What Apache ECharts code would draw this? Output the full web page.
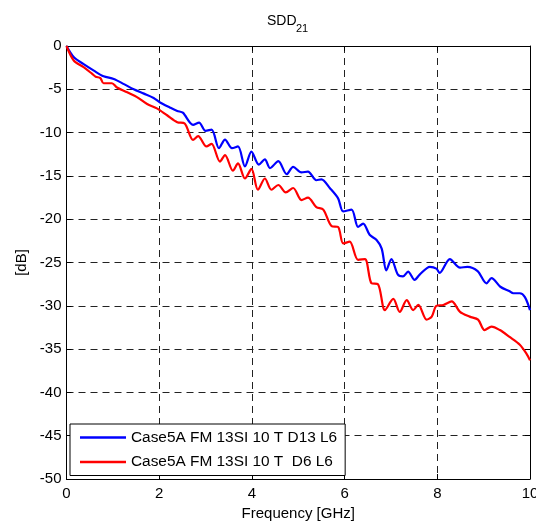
<!DOCTYPE html>
<html>
<head>
<meta charset="utf-8">
<script src="https://cdn.jsdelivr.net/npm/echarts@6/dist/echarts.min.js"></script>
<style>
html,body{margin:0;padding:0;background:#fff;}
#chart{width:536px;height:523px;}
</style>
</head>
<body>
<div id="chart"></div>
<script>
// ---- data ----
const seriesNames = ['Case5A FM 13SI 10 T D13 L6', 'Case5A FM 13SI 10 T  D6 L6'];
const xTicks = [0, 2, 4, 6, 8, 10];
const yTicks = [0, -5, -10, -15, -20, -25, -30, -35, -40, -45, -50];

const blueFreq = [0,0.16,0.37,0.59,0.8,1.02,1.24,1.45,1.67,1.88,2.01,2.23,2.39,2.51,2.73,2.86,3.0,3.13,3.29,3.42,3.57,3.7,3.85,3.99,4.15,4.28,4.39,4.57,4.75,4.89,5.07,5.21,5.39,5.5,5.68,5.86,5.97,6.15,6.29,6.4,6.54,6.69,6.8,6.9,7.01,7.15,7.26,7.37,7.51,7.62,7.84,7.98,8.05,8.27,8.49,8.65,8.87,9.06,9.17,9.36,9.55,9.64,9.78,9.89,10];
const blueDb   = [0,-1.3,-2.1,-2.85,-3.5,-3.8,-4.4,-5.0,-5.5,-6.0,-6.5,-7.1,-7.5,-7.7,-9.1,-8.85,-9.8,-9.65,-11.8,-10.8,-11.8,-11.6,-13.9,-12.2,-13.7,-13.1,-14.1,-13.3,-14.8,-13.95,-14.6,-14.5,-15.5,-15.4,-16.4,-17.6,-19.1,-18.9,-20.9,-20.5,-21.8,-22.4,-23.4,-25.9,-24.6,-26.4,-26.6,-26.05,-27.0,-26.4,-25.5,-25.7,-26.2,-24.6,-25.6,-25.5,-26.0,-27.4,-26.8,-27.8,-28.3,-28.55,-28.55,-29.0,-30.5];

const redFreq = [0,0.16,0.37,0.55,0.63,0.73,0.8,0.98,1.09,1.31,1.52,1.74,1.95,2.17,2.39,2.55,2.73,2.84,3.02,3.13,3.31,3.42,3.59,3.7,3.85,3.99,4.13,4.28,4.42,4.57,4.73,4.89,5.07,5.21,5.39,5.54,5.72,5.86,5.97,6.11,6.29,6.44,6.58,6.72,6.87,7.05,7.19,7.34,7.48,7.59,7.77,7.88,7.98,8.13,8.31,8.49,8.7,8.88,9.02,9.17,9.35,9.56,9.78,9.92,10];
const redDb   = [0,-1.7,-2.45,-3.2,-3.55,-3.7,-4.3,-4.3,-4.8,-5.35,-5.9,-6.7,-7.2,-8.0,-8.8,-8.95,-10.85,-10.4,-11.6,-11.3,-13.35,-12.6,-14.4,-13.55,-15.3,-14.2,-16.6,-15.3,-16.6,-16.05,-16.9,-16.4,-17.8,-17.5,-18.6,-18.9,-20.8,-20.9,-22.8,-22.6,-24.7,-24.6,-27.4,-27.5,-30.5,-29.2,-30.7,-29.35,-30.5,-29.9,-31.6,-31.25,-30.0,-29.9,-29.5,-30.7,-31.25,-31.6,-32.8,-32.4,-32.8,-33.6,-34.5,-35.5,-36.3];

const zip = (a, b) => a.map((v, i) => [v, b[i]]);
const FONT = "'Liberation Sans', Arial, sans-serif";

const chart = echarts.init(document.getElementById('chart'), null, {renderer: 'canvas'});

const gridLine = {show: true, lineStyle: {type: [7, 5], color: '#222', width: 1}};
const axisLine = {show: true, onZero: false, lineStyle: {color: '#000', width: 1}};
const axisTick = {show: true, inside: true, length: 5, lineStyle: {color: '#000'}};

chart.setOption({
  animation: false,
  backgroundColor: '#fff',
  graphic: [
    {type: 'text', left: 267, top: 14, style: {text: 'SDD', font: '14px ' + FONT, fill: '#000'}},
    {type: 'text', left: 296, top: 23, style: {text: '21', font: '11px ' + FONT, fill: '#000'}}
  ],
  grid: {left: 66.5, right: 6, top: 46, bottom: 44, containLabel: false, outerBoundsMode: 'none'},
  legend: {
    orient: 'vertical',
    left: 70, top: 424,
    padding: [6, 8, 6, 10],
    itemGap: 9.5,
    itemWidth: 46, itemHeight: 2.5,
    icon: 'rect',
    backgroundColor: '#fff',
    borderColor: '#000', borderWidth: 1,
    textStyle: {fontSize: 15.4, fontFamily: FONT, color: '#000', lineHeight: 14},
    data: seriesNames
  },
  xAxis: [
    {type: 'value', min: xTicks[0], max: xTicks[xTicks.length - 1], interval: 2, position: 'bottom',
     axisLine, axisTick, splitLine: gridLine,
     axisLabel: {color: '#000', fontSize: 15, fontFamily: FONT, margin: 7},
     name: 'Frequency [GHz]', nameLocation: 'middle', nameGap: 27,
     nameTextStyle: {color: '#000', fontSize: 15, fontFamily: FONT}},
    {type: 'value', min: xTicks[0], max: xTicks[xTicks.length - 1], interval: 2, position: 'top',
     axisLine, axisTick, splitLine: {show: false}, axisLabel: {show: false}}
  ],
  yAxis: [
    {type: 'value', min: yTicks[yTicks.length - 1], max: yTicks[0], interval: 5, position: 'left',
     axisLine, axisTick, splitLine: gridLine,
     axisLabel: {color: '#000', fontSize: 15, fontFamily: FONT, margin: 5},
     name: '[dB]', nameLocation: 'middle', nameGap: 32, nameRotate: 90,
     nameTextStyle: {color: '#000', fontSize: 15, fontFamily: FONT}},
    {type: 'value', min: yTicks[yTicks.length - 1], max: yTicks[0], interval: 5, position: 'right',
     axisLine, axisTick, splitLine: {show: false}, axisLabel: {show: false}}
  ],
  series: [
    {name: seriesNames[0], type: 'line', data: zip(blueFreq, blueDb), showSymbol: false, symbol: 'none',
     smooth: 0.3, lineStyle: {color: '#0000ff', width: 2.2}, itemStyle: {color: '#0000ff'}, xAxisIndex: 0, yAxisIndex: 0},
    {name: seriesNames[1], type: 'line', data: zip(redFreq, redDb), showSymbol: false, symbol: 'none',
     smooth: 0.3, lineStyle: {color: '#ff0000', width: 2.2}, itemStyle: {color: '#ff0000'}, xAxisIndex: 0, yAxisIndex: 0}
  ]
});
</script>
</body>
</html>
